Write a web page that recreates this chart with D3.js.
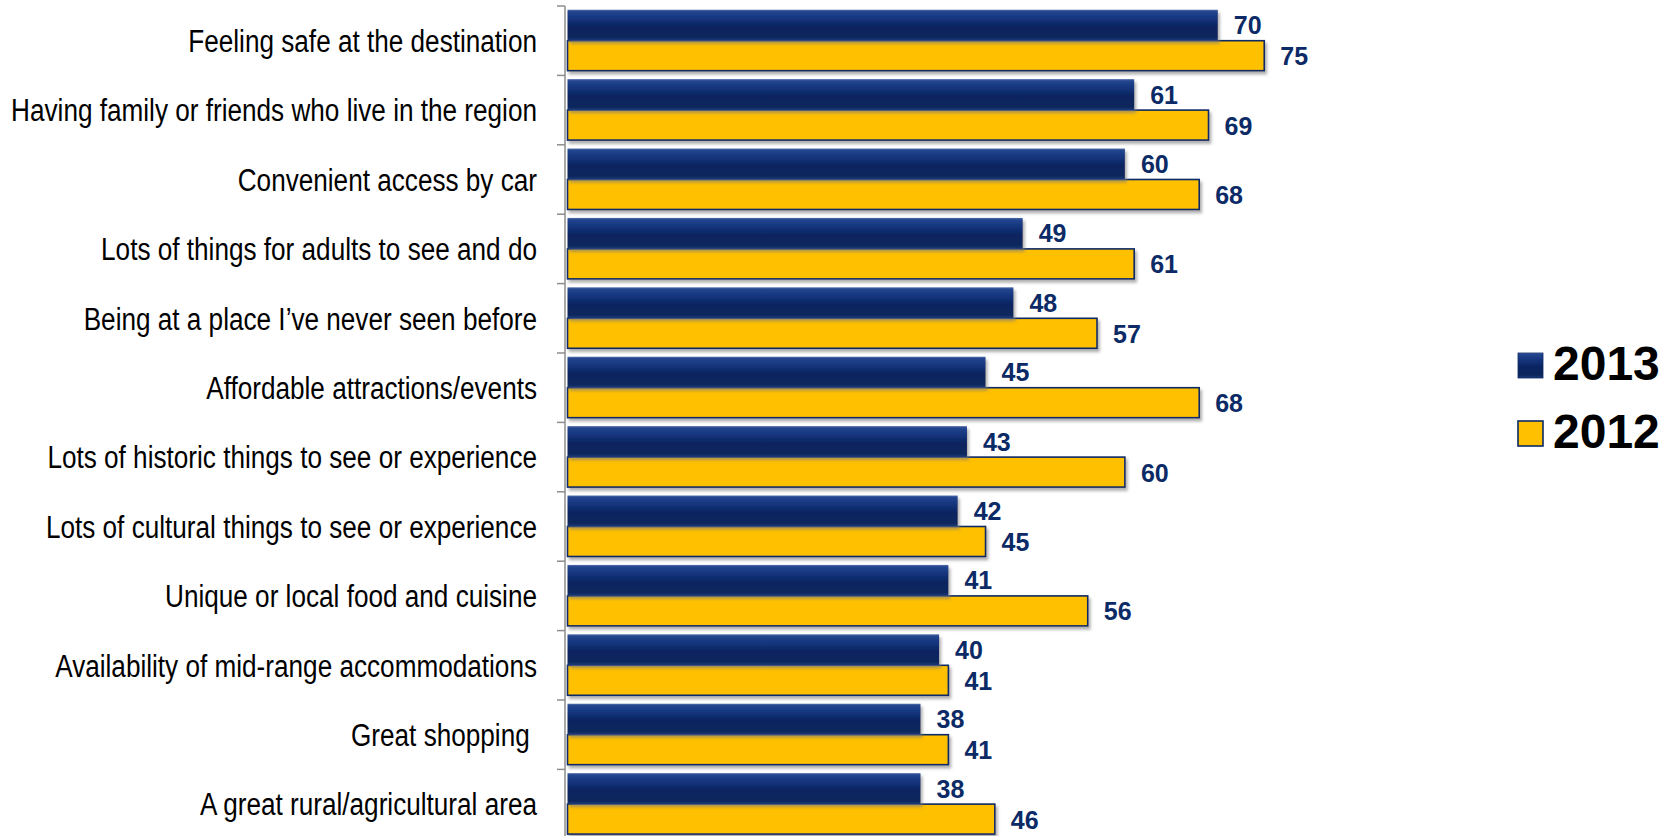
<!DOCTYPE html>
<html>
<head>
<meta charset="utf-8">
<script src="https://cdn.jsdelivr.net/npm/d3@7"></script>
<style>
  html, body { margin: 0; padding: 0; background: #ffffff; }
  svg { display: block; }
  text { white-space: pre; }
</style>
</head>
<body>
<svg id="chart" width="1675" height="836"></svg>
<script>
const categories = [
  "Feeling safe at the destination",
  "Having family or friends who live in the region",
  "Convenient access by car",
  "Lots of things for adults to see and do",
  "Being at a place I\u2019ve never seen before",
  "Affordable attractions/events",
  "Lots of historic things to see or experience",
  "Lots of cultural things to see or experience",
  "Unique or local food and cuisine",
  "Availability of mid-range accommodations",
  "Great shopping ",
  "A great rural/agricultural area"
];
const values2013 = [70, 61, 60, 49, 48, 45, 43, 42, 41, 40, 38, 38];
const values2012 = [75, 69, 68, 61, 57, 68, 60, 45, 56, 41, 41, 46];
const seriesNames = ["2013", "2012"];

const svg = d3.select("#chart");
const defs = svg.append("defs");

const navyGrad = defs.append("linearGradient").attr("id", "navyGrad")
  .attr("x1", 0).attr("y1", 0).attr("x2", 0).attr("y2", 1);
[[0, "#5570ae"], [0.06, "#23458e"], [0.25, "#163780"], [0.55, "#0a2460"], [0.88, "#0b265c"], [1, "#1d3b78"]]
  .forEach(([o, c]) => navyGrad.append("stop").attr("offset", o).attr("stop-color", c));

const shadow = defs.append("filter").attr("id", "shadow")
  .attr("x", "-5%").attr("y", "-20%").attr("width", "115%").attr("height", "160%");
shadow.append("feDropShadow").attr("dx", 2).attr("dy", 3).attr("stdDeviation", 1.6)
  .attr("flood-color", "#7a7a7a").attr("flood-opacity", 0.6);

const x0 = 567.5;
const x = d3.scaleLinear().domain([0, 100]).range([x0, x0 + 929]);

const step = 69.4;
const yTop = 6;
const y = d3.scaleBand().domain(categories)
  .range([yTop, yTop + step * categories.length])
  .paddingInner(0.107).paddingOuter(0.0535);
const ySub = d3.scaleBand().domain(seriesNames).range([0, y.bandwidth()]);

const navy = "#0b2a66";

// Axis (category axis on left)
const axisG = svg.append("g").attr("transform", `translate(565,0)`);
axisG.append("line").attr("x1", 0).attr("x2", 0)
  .attr("y1", yTop).attr("y2", yTop + step * categories.length)
  .attr("stroke", "#8c8c8c").attr("stroke-width", 1.5);
const tickPositions = d3.range(categories.length + 1).map(i => yTop + i * y.step());
axisG.selectAll("line.tick").data(tickPositions).join("line").attr("class", "tick")
  .attr("x1", -8).attr("x2", 0).attr("y1", d => d).attr("y2", d => d)
  .attr("stroke", "#8c8c8c").attr("stroke-width", 1.5);

// Category labels (narrow)
const labelG = svg.append("g");
labelG.selectAll("g.lab").data(categories).join("g").attr("class", "lab")
  .attr("transform", d => `translate(537,${y(d) + y.bandwidth() / 2}) scale(0.83,1)`)
  .append("text")
  .attr("text-anchor", "end").attr("dy", "0.36em")
  .attr("font-family", "'Liberation Sans', Arial, sans-serif")
  .attr("font-size", 31.5).attr("fill", "#000")
  .text(d => d);

// Bars
const rows = categories.map((c, i) => ({ c, v2013: values2013[i], v2012: values2012[i] }));
const barsG = svg.append("g");

barsG.selectAll("rect.b2012").data(rows).join("rect").attr("class", "b2012")
  .attr("x", x(0)).attr("y", d => y(d.c) + ySub("2012"))
  .attr("width", d => x(d.v2012) - x(0)).attr("height", ySub.bandwidth() - 1)
  .attr("fill", "#ffc000").attr("stroke", navy).attr("stroke-width", 1.6)
  .attr("filter", "url(#shadow)");

barsG.selectAll("rect.b2013").data(rows).join("rect").attr("class", "b2013")
  .attr("x", x(0)).attr("y", d => y(d.c) + ySub("2013"))
  .attr("width", d => x(d.v2013) - x(0)).attr("height", ySub.bandwidth())
  .attr("fill", "url(#navyGrad)")
  .attr("filter", "url(#shadow)");

// Value labels
const valG = svg.append("g")
  .attr("font-family", "'Liberation Sans', Arial, sans-serif")
  .attr("font-weight", "bold").attr("font-size", 25).attr("fill", navy);
valG.selectAll("text.v2013").data(rows).join("text").attr("class", "v2013")
  .attr("x", d => x(d.v2013) + 16)
  .attr("y", d => y(d.c) + ySub("2013") + ySub.bandwidth() / 2)
  .attr("dy", "0.36em").text(d => d.v2013);
valG.selectAll("text.v2012").data(rows).join("text").attr("class", "v2012")
  .attr("x", d => x(d.v2012) + 16)
  .attr("y", d => y(d.c) + ySub("2012") + ySub.bandwidth() / 2)
  .attr("dy", "0.36em").text(d => d.v2012);

// Legend
const legend = svg.append("g").attr("transform", "translate(1518,353)");
const legendItems = legend.selectAll("g").data(seriesNames).join("g")
  .attr("transform", (d, i) => `translate(0,${i * 68})`);
legendItems.append("rect").attr("width", 25).attr("height", 25)
  .attr("fill", d => d === "2013" ? "url(#navyGrad)" : "#ffc000")
  .attr("stroke", navy).attr("stroke-width", d => d === "2013" ? 0.8 : 1.6);
legendItems.append("text").attr("x", 35).attr("y", 27)
  .attr("font-family", "'Liberation Sans', Arial, sans-serif")
  .attr("font-weight", "bold").attr("font-size", 48).attr("fill", "#000")
  .text(d => d);
</script>
</body>
</html>
